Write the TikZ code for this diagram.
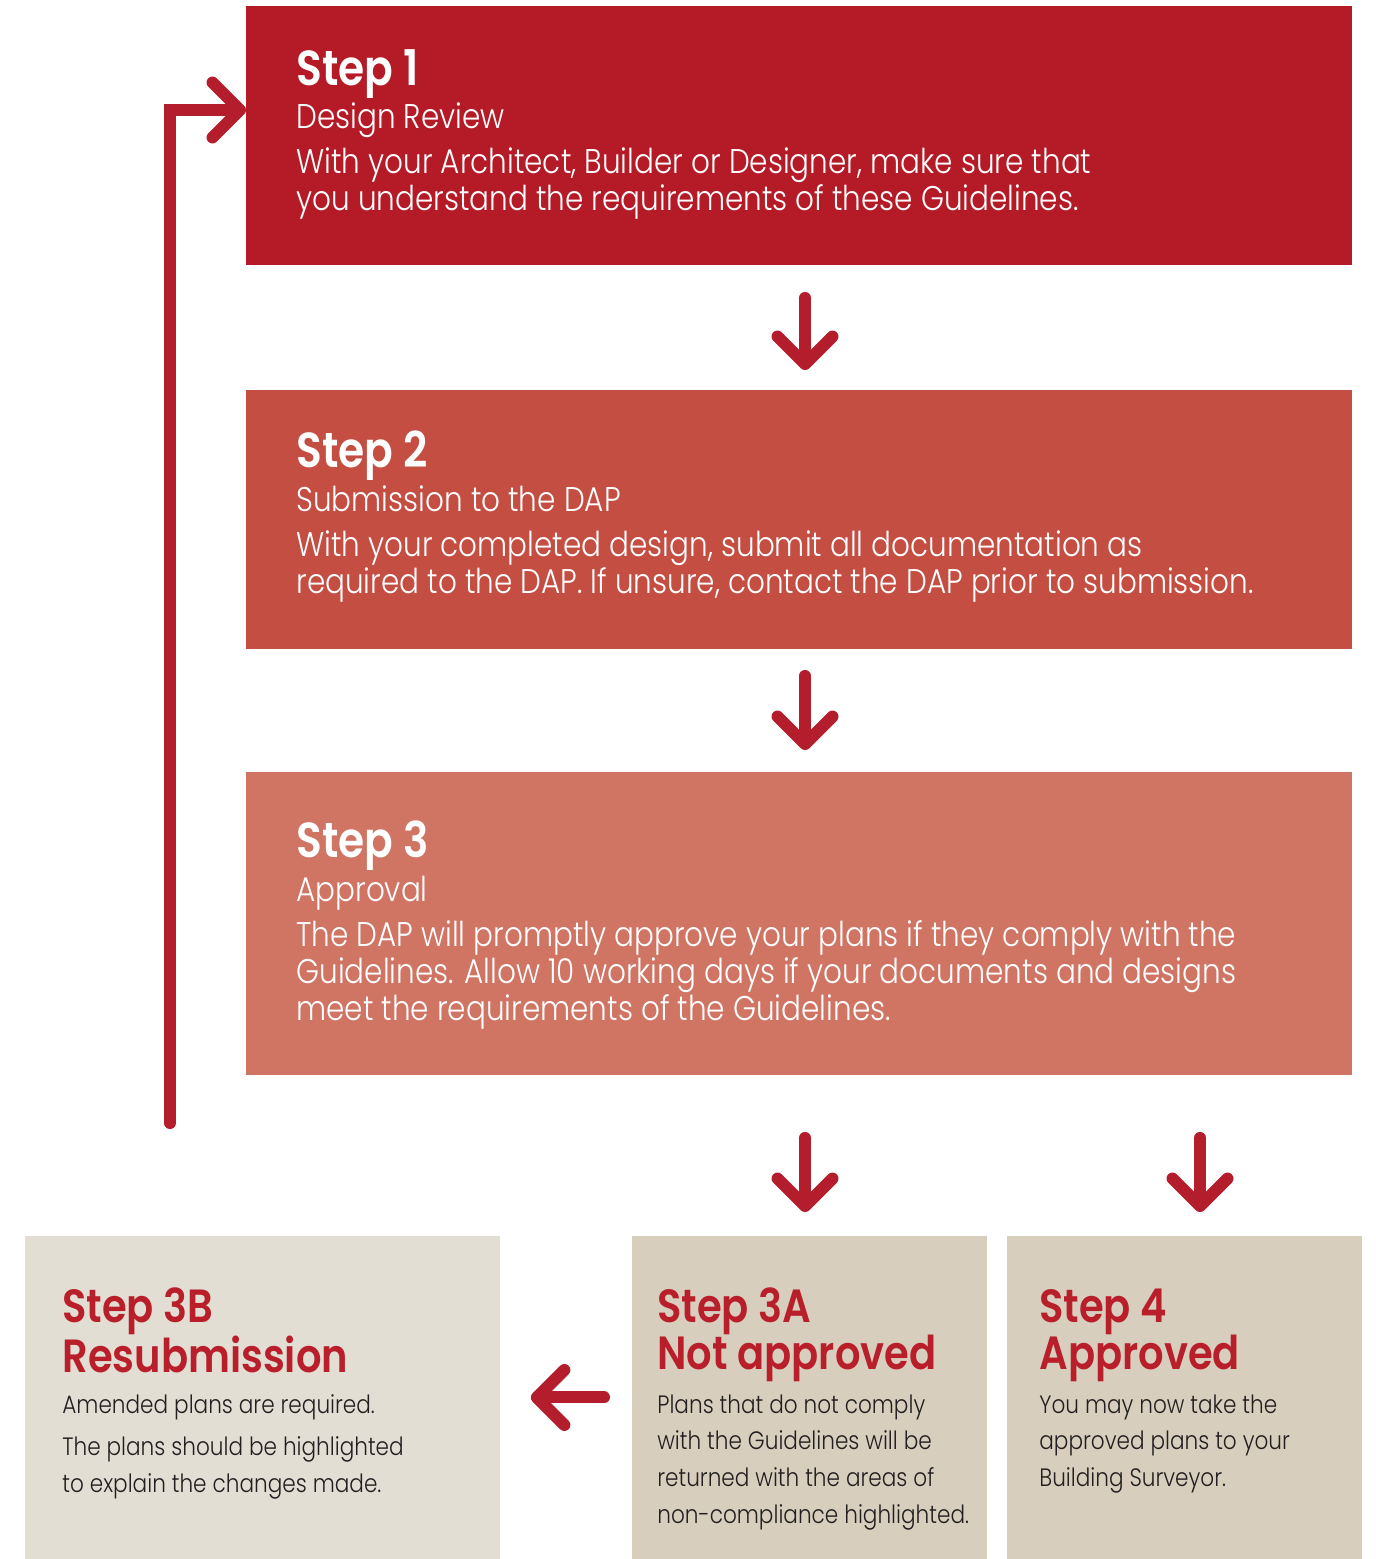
\documentclass[tikz,border=0pt]{standalone}
\usepackage{fontspec}
\setmainfont{Poppins}[UprightFont=* Light, BoldFont=* SemiBold, FakeStretch=0.86]
\usetikzlibrary{arrows.meta}

\definecolor{stepone}{HTML}{B51B27}
\definecolor{steptwo}{HTML}{C44E42}
\definecolor{stepthree}{HTML}{D07464}
\definecolor{resubfill}{HTML}{E2DED3}
\definecolor{resultfill}{HTML}{D8CEBD}
\definecolor{arrowred}{HTML}{B41D2B}
\definecolor{titlered}{HTML}{B91E2B}
\definecolor{textdark}{HTML}{231F20}

\newcommand{\rows}[1]{\begin{tabular}[t]{@{}l@{}}#1\end{tabular}}

\begin{document}
\begin{tikzpicture}[
    x=0.02cm, y=-0.02cm,
    box/.style={rectangle, anchor=north west, inner sep=0pt, outer sep=0pt},
    bigtitle/.style={anchor=base west, inner sep=0pt, text=white, font=\fontsize{28}{30}\selectfont\bfseries},
    subtitle/.style={anchor=base west, inner sep=0pt, text=white, font=\fontsize{19.5}{21}\selectfont},
    bodytext/.style={anchor=base west, inner sep=0pt, text=white, font=\fontsize{19.5}{21}\selectfont},
    smalltitle/.style={anchor=base west, inner sep=0pt, text=titlered, font=\fontsize{26.5}{25.6}\selectfont\bfseries},
    smalltext/.style={anchor=base west, inner sep=0pt, text=textdark, font=\fontsize{14.3}{21}\selectfont},
    flow/.style={draw=arrowred, line width=0.24cm, line cap=round, -{Straight Barb[length=0.55cm, width=1.1cm, round]}},
    ]

    \useasboundingbox (0,0) rectangle (1376,1559);

    % Main steps
    \node[box, fill=stepone, minimum width=22.12cm, minimum height=5.18cm] (s1) at (246,6) {};
    \node[box, fill=steptwo, minimum width=22.12cm, minimum height=5.18cm] (s2) at (246,390) {};
    \node[box, fill=stepthree, minimum width=22.12cm, minimum height=6.06cm] (s3) at (246,772) {};

    % Outcomes
    \node[box, fill=resubfill, minimum width=9.5cm, minimum height=6.46cm] (s3b) at (25,1236) {};
    \node[box, fill=resultfill, minimum width=7.1cm, minimum height=6.46cm] (s3a) at (632,1236) {};
    \node[box, fill=resultfill, minimum width=7.1cm, minimum height=6.46cm] (s4) at (1007,1236) {};

    % Step texts
    \node[bigtitle] (t1) at (296,85) {Step 1};
    \node[subtitle] (u1) at (296,128) {Design Review};
    \node[bodytext] (b1) at (296,173) {\rows{With your Architect, Builder or Designer, make sure that\\ you understand the requirements of these Guidelines.}};

    \node[bigtitle] (t2) at (296,467) {Step 2};
    \node[subtitle] (u2) at (296,511) {Submission to the DAP};
    \node[bodytext] (b2) at (296,556) {\rows{With your completed design, submit all documentation as\\ required to the DAP. If unsure, contact the DAP prior to submission.}};

    \node[bigtitle] (t3) at (296,857) {Step 3};
    \node[subtitle] (u3) at (296,901) {Approval};
    \node[bodytext] (b3) at (296,946) {\rows{The DAP will promptly approve your plans if they comply with the\\ Guidelines. Allow 10 working days if your documents and designs\\ meet the requirements of the Guidelines.}};

    \node[smalltitle] (t3b) at (62,1322) {\rows{Step 3B\\ Resubmission}};
    \node[smalltext] (b3b) at (62,1413) {\rows{Amended plans are required.\\[3.4pt] The plans should be highlighted\\ to explain the changes made.}};

    \node[smalltitle] (t3a) at (657,1322) {\rows{Step 3A\\ Not approved}};
    \node[smalltext] (b3a) at (657,1413) {\rows{Plans that do not comply\\ with the Guidelines will be\\ returned with the areas of\\ non-compliance highlighted.}};

    \node[smalltitle] (t4) at (1039,1322) {\rows{Step 4\\ Approved}};
    \node[smalltext] (b4) at (1039,1413) {\rows{You may now take the\\ approved plans to your\\ Building Surveyor.}};

    % Arrow columns
    \coordinate (colA) at (805,0);
    \coordinate (colB) at (1200,0);
    \coordinate (loopx) at (170,0);
    \coordinate (loopin) at (246,110);

    % Arrows
    \draw[flow, shorten <=0.66cm, shorten >=0.4cm] (s1.south -| colA) -- (s2.north -| colA);
    \draw[flow, shorten <=0.54cm, shorten >=0.44cm] (s2.south -| colA) -- (s3.north -| colA);
    \draw[flow, shorten <=1.26cm, shorten >=0.48cm] (s3.south -| colA) -- (s3a.north -| colA);
    \draw[flow, shorten <=1.26cm, shorten >=0.48cm] (s3.south -| colB) -- (s4.north -| colB);
    \draw[flow, shorten <=0.56cm, shorten >=0.62cm] (s3a.west) -- (s3b.east);
    \draw[flow, shorten <=2.26cm] (s3b.north -| loopx) |- (loopin);

\end{tikzpicture}
\end{document}
